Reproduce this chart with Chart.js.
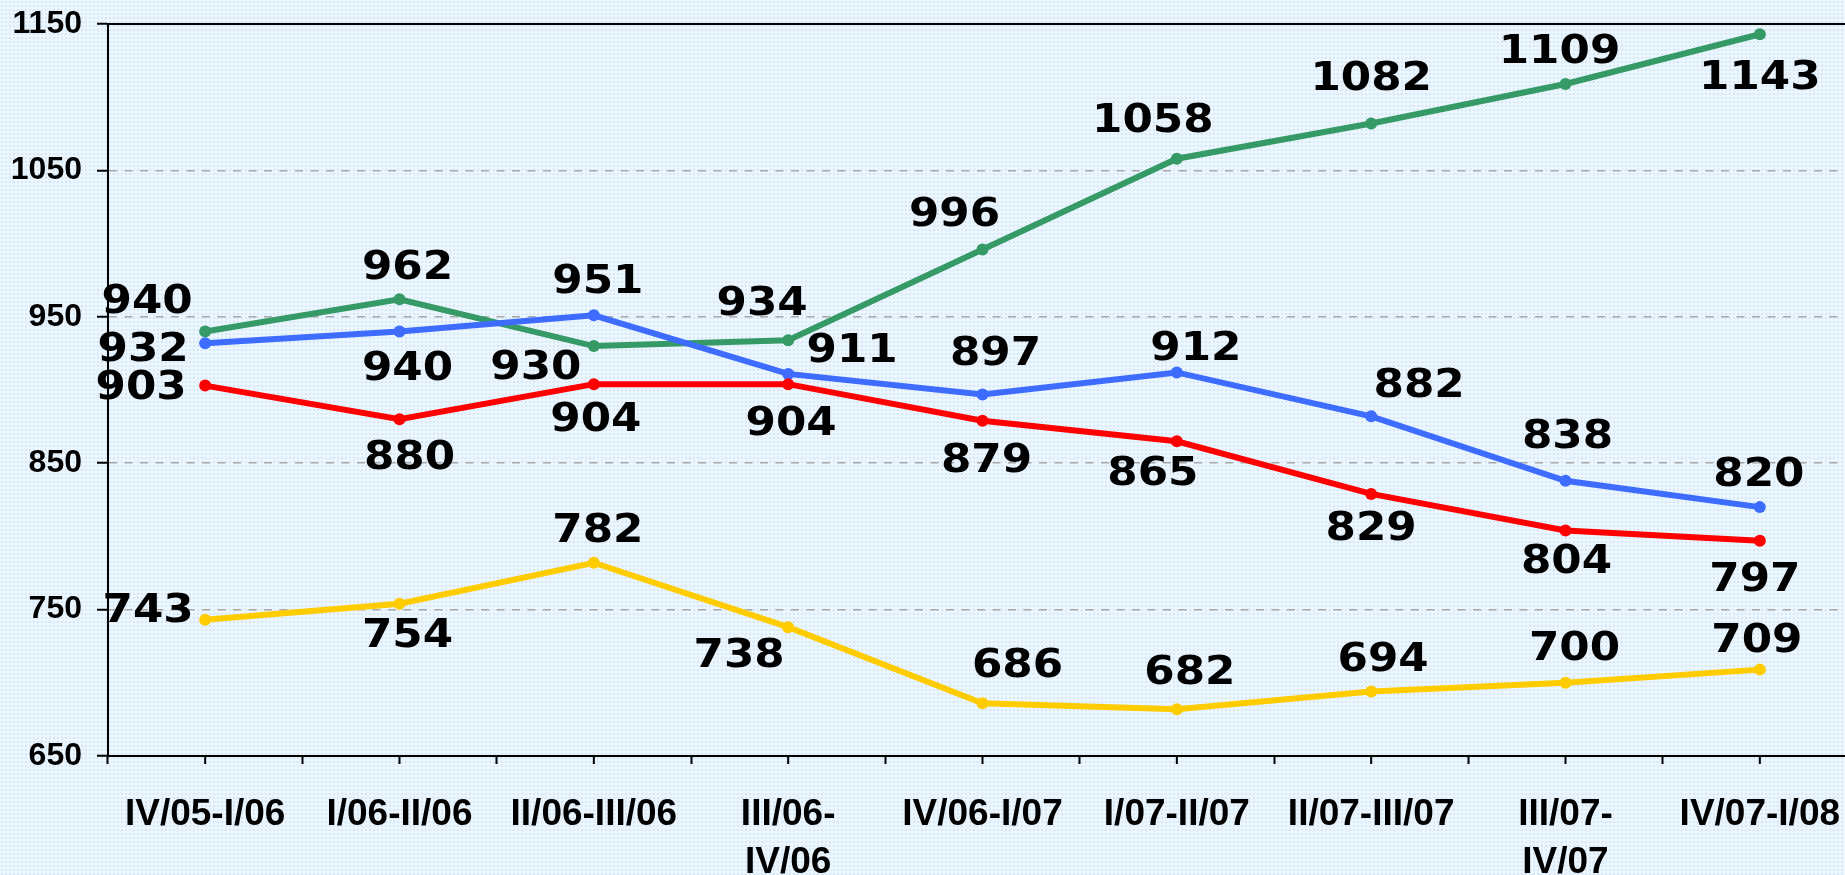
<!DOCTYPE html>
<html>
<head>
<meta charset="utf-8">
<script src="https://cdn.jsdelivr.net/npm/chart.js@4/dist/chart.umd.min.js"></script>
<style>
  html, body {
    margin: 0;
    width: 1845px;
    height: 875px;
    overflow: hidden;
    background-color: #edf6fd;
    background-image: radial-gradient(circle, #d2e9f9 1px, transparent 1.6px);
    background-size: 4px 4px;
  }
  #chart { display: block; }
</style>
</head>
<body>
<canvas id="chart" width="1870" height="886"></canvas>
<script>
const categories = [
  "IV/05-I/06", "I/06-II/06", "II/06-III/06", ["III/06-", "IV/06"], "IV/06-I/07",
  "I/07-II/07", "II/07-III/07", ["III/07-", "IV/07"], "IV/07-I/08",
];
const yTicks = [650, 750, 850, 950, 1050, 1150];

const greenValues = [940, 962, 930, 934, 996, 1058, 1082, 1109, 1143];
const blueValues = [932, 940, 951, 911, 897, 912, 882, 838, 820];
const redValues = [903, 880, 904, 904, 879, 865, 829, 804, 797];
const yellowValues = [743, 754, 782, 738, 686, 682, 694, 700, 709];

// where each value label sits relative to its point (px)
const greenLabelOffset = [[-58, -29], [8, -30], [-58, 23], [-26, -35], [-28, -34], [-24, -37], [0, -44], [-6, -31], [0, 45]];
const blueLabelOffset = [[-62, 8], [8, 38], [4, -32], [64, -22], [13, -40], [19, -23], [48, -29], [2, -43], [-1, -31]];
const redLabelOffset = [[-64, 3], [10, 40], [2, 37], [3, 41], [4, 41], [-24, 34], [0, 36], [1, 32], [-5, 40]];
const yellowLabelOffset = [[-57, -8], [8, 33], [4, -31], [-49, 30], [35, -36], [13, -35], [12, -31], [9, -33], [-3, -28]];

const valueLabels = {
  id: "valueLabels",
  afterDatasetsDraw(chart) {
    const ctx = chart.ctx;
    ctx.save();
    ctx.fillStyle = "#000";
    ctx.font = 'bold 39px "DejaVu Sans"';
    ctx.textAlign = "center";
    ctx.textBaseline = "middle";
    chart.data.datasets.forEach((ds, di) => {
      const meta = chart.getDatasetMeta(di);
      meta.data.forEach((pt, i) => {
        const off = ds.labelOffset[i];
        ctx.save();
        ctx.translate(pt.x + off[0], pt.y + off[1]);
        ctx.scale(1.12, 1);
        ctx.fillText(String(ds.data[i]), 0, 0);
        ctx.restore();
      });
    });
    ctx.restore();
  },
};

const axisExtras = {
  id: "axisExtras",
  beforeDatasetsDraw(chart) {
    const { ctx, chartArea, scales } = chart;
    ctx.save();
    ctx.strokeStyle = "#000";
    ctx.lineWidth = 2;
    ctx.beginPath();
    const yTop = scales.y.getPixelForValue(yTicks[yTicks.length - 1]);
    ctx.moveTo(chartArea.left, yTop);
    ctx.lineTo(chart.width, yTop);
    categories.forEach((c, i) => {
      const px = scales.x.getPixelForValue(i);
      ctx.moveTo(px, chartArea.bottom);
      ctx.lineTo(px, chartArea.bottom + 8);
    });
    ctx.stroke();
    ctx.restore();
  },
};

function series(values, color, offsets) {
  return {
    data: values,
    labelOffset: offsets,
    borderColor: color,
    backgroundColor: color,
    borderWidth: 6,
    pointRadius: 6,
    pointBorderWidth: 0,
    pointBackgroundColor: color,
    tension: 0,
  };
}

new Chart(document.getElementById("chart"), {
  type: "line",
  data: {
    labels: categories,
    datasets: [
      series(yellowValues, "#ffcc00", yellowLabelOffset),
      series(redValues, "#ff0000", redLabelOffset),
      series(blueValues, "#3d6cff", blueLabelOffset),
      series(greenValues, "#359a66", greenLabelOffset),
    ],
  },
  options: {
    responsive: false,
    animation: false,
    layout: { padding: { left: 11, right: 13, top: 24, bottom: 0 } },
    plugins: {
      legend: { display: false },
      tooltip: { enabled: false },
    },
    scales: {
      x: {
        offset: true,
        afterFit: (scale) => { scale.height = 130; },
        border: { display: true, color: "#000", width: 2 },
        grid: {
          offset: true,
          drawOnChartArea: false,
          drawTicks: true,
          tickLength: 8,
          tickColor: "#000",
          tickWidth: 2,
        },
        ticks: {
          autoSkip: false,
          maxRotation: 0,
          color: "#000",
          padding: 26,
          font: { family: '"Liberation Sans", Arial', size: 37, weight: "bold", lineHeight: 1.32 },
        },
      },
      y: {
        min: yTicks[0],
        max: yTicks[yTicks.length - 1],
        afterFit: (scale) => { scale.width = 97; },
        border: { display: true, color: "#000", width: 2, dash: [8, 7.5] },
        grid: {
          color: (c) => (c.tick && (c.tick.value === yTicks[0] || c.tick.value === yTicks[yTicks.length - 1]) ? "rgba(0,0,0,0)" : "#a8a8a8"),
          lineWidth: 1.5,
          drawTicks: true,
          tickLength: 11,
          tickColor: "#000",
          tickWidth: 2,
          tickBorderDash: [],
        },
        ticks: {
          stepSize: 100,
          color: "#000",
          padding: 15,
          callback: (v) => String(v),
          font: { family: '"Liberation Sans", Arial', size: 32, weight: "bold", lineHeight: 0.5 },
        },
      },
    },
  },
  plugins: [axisExtras, valueLabels],
});
</script>
</body>
</html>
